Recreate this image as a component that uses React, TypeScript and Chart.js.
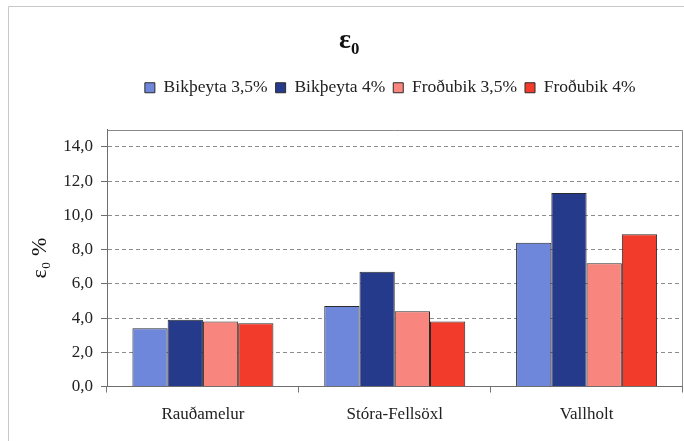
import React, { useEffect, useRef } from "react";
import { Chart, registerables } from "chart.js";

Chart.register(...registerables);

const categories = ["Rauðamelur", "Stóra-Fellsöxl", "Vallholt"];
const seriesNames = ["Bikþeyta 3,5%", "Bikþeyta 4%", "Froðubik 3,5%", "Froðubik 4%"];
const bik35 = [3.4, 4.7, 8.4];
const bik4 = [3.9, 6.7, 11.3];
const frod35 = [3.8, 4.4, 7.2];
const frod4 = [3.7, 3.8, 8.9];
const seriesColors = ["#6F87DB", "#263A8C", "#F8867E", "#F33B2B"];
const yTicks = [0, 2, 4, 6, 8, 10, 12, 14];
const yAxisMax = 15;

const FONT = "'Liberation Serif', 'Times New Roman', serif";

const framePlugin = {
  id: "frame",
  beforeDraw(chart: any) {
    const { ctx, width, height } = chart;
    const a = chart.chartArea;
    ctx.save();
    ctx.fillStyle = "#ffffff";
    ctx.fillRect(0, 0, width, height);
    ctx.setLineDash([]);
    ctx.lineWidth = 1;
    ctx.strokeStyle = "#c8c8c8";
    ctx.beginPath();
    ctx.moveTo(8.5, height);
    ctx.lineTo(8.5, 6.5);
    ctx.lineTo(width, 6.5);
    ctx.stroke();
    const top = Math.round(a.top) + 0.5;
    const right = Math.round(a.right) - 0.5;
    ctx.strokeStyle = "#8a8a8a";
    ctx.beginPath();
    ctx.moveTo(Math.round(a.left), top);
    ctx.lineTo(right, top);
    ctx.lineTo(right, Math.round(a.bottom));
    ctx.stroke();
    ctx.restore();
  },
  afterLayout(chart: any) {
    const lg = chart.legend;
    if (lg) {
      lg.left += 49;
      lg.right += 49;
    }
    const tb = chart.titleBlock;
    if (tb) {
      tb.left += 8;
      tb.right += 8;
    }
  },
};

export default function App() {
  const ref = useRef<HTMLCanvasElement | null>(null);

  useEffect(() => {
    if (!ref.current) return;
    const data = [bik35, bik4, frod35, frod4];
    const chart = new Chart(ref.current, {
      type: "bar",
      data: {
        labels: categories,
        datasets: seriesNames.map((name, i) => ({
          label: name,
          data: data[i],
          backgroundColor: seriesColors[i],
          borderColor: "#2a2a2a",
          borderWidth: 1,
          barPercentage: 1,
          categoryPercentage: 0.735,
        })),
      },
      options: {
        responsive: false,
        animation: false,
        layout: { padding: { left: 0, right: 1.5, top: 0, bottom: 0 } },
        plugins: {
          title: {
            display: true,
            text: "ε₀",
            color: "#111",
            font: { family: FONT, size: 28, weight: "bold" },
            padding: { top: 24.2, bottom: 13.2 },
          },
          subtitle: {
            display: true,
            text: " ",
            font: { family: FONT, size: 10 },
            padding: { top: 11.25, bottom: 0 },
            weight: 900,
          } as any,
          legend: {
            display: true,
            position: "top",
            weight: 1800,
            labels: {
              boxWidth: 10,
              boxHeight: 10,
              padding: 8,
              color: "#222",
              font: { family: FONT, size: 17.5 },
            },
          } as any,
          tooltip: { enabled: false },
        },
        scales: {
          x: {
            grid: {
              display: true,
              drawOnChartArea: false,
              drawTicks: true,
              tickLength: 6,
              color: "#777",
              offset: true,
            },
            border: { display: true, color: "#6e6e6e", width: 1 },
            ticks: {
              color: "#222",
              padding: 12,
              font: { family: FONT, size: 17 },
              maxRotation: 0,
            },
            afterFit(scale: any) {
              scale.height = 54.5;
            },
          },
          y: {
            min: 0,
            max: yAxisMax,
            ticks: {
              padding: 8,
              color: "#222",
              font: { family: FONT, size: 17 },
              callback: (v: any) => Number(v).toFixed(1).replace(".", ","),
            },
            afterBuildTicks(scale: any) {
              scale.ticks = yTicks.map((v) => ({ value: v }));
            },
            afterFit(scale: any) {
              scale.width = 107;
            },
            grid: {
              drawTicks: true,
              tickLength: 6,
              color: (c: any) => (c.tick && c.tick.value === 0 ? "rgba(0,0,0,0)" : "#8c8c8c"),
              tickColor: "#6e6e6e",
            },
            border: { display: true, color: "#6e6e6e", width: 1, dash: [4, 3] },
            title: {
              display: true,
              text: "ε₀ %",
              color: "#111",
              font: { family: FONT, size: 22 },
              padding: { top: 26.8, bottom: 0 },
            },
          },
        },
      },
      plugins: [framePlugin],
    });
    return () => chart.destroy();
  }, []);

  return (
    <div style={{ position: "absolute", left: 0, top: 0, width: 684, height: 441 }}>
      <canvas ref={ref} width={684} height={441} style={{ display: "block" }} />
    </div>
  );
}
